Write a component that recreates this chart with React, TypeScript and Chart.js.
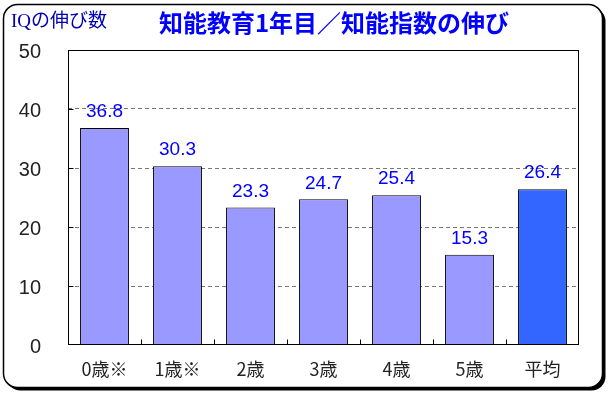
import React, { useEffect, useRef } from "react";
import { Chart, registerables } from "chart.js";

Chart.register(...registerables);

const categories = ["0歳※", "1歳※", "2歳", "3歳", "4歳", "5歳", "平均"];
const values = [36.8, 30.3, 23.3, 24.7, 25.4, 15.3, 26.4];
const barColors = ["#9999FF", "#9999FF", "#9999FF", "#9999FF", "#9999FF", "#9999FF", "#3366FF"];
const yMin = 0;
const yMax = 50;
const yStep = 10;
const titleText = "知能教育1年目／知能指数の伸び";
const yAxisTitle = "IQの伸び数";

function roundRectPath(ctx: CanvasRenderingContext2D, x: number, y: number, w: number, h: number, r: number) {
  ctx.beginPath();
  ctx.moveTo(x + r, y);
  ctx.lineTo(x + w - r, y);
  ctx.arcTo(x + w, y, x + w, y + r, r);
  ctx.lineTo(x + w, y + h - r);
  ctx.arcTo(x + w, y + h, x + w - r, y + h, r);
  ctx.lineTo(x + r, y + h);
  ctx.arcTo(x, y + h, x, y + h - r, r);
  ctx.lineTo(x, y + r);
  ctx.arcTo(x, y, x + r, y, r);
  ctx.closePath();
}

const decorPlugin = {
  id: "decor",
  beforeDraw(chart: any) {
    const ctx = chart.ctx as CanvasRenderingContext2D;
    ctx.save();
    ctx.fillStyle = "#ffffff";
    ctx.fillRect(0, 0, chart.width, chart.height);
    // shadow
    roundRectPath(ctx, 6.5, 7.5, 599, 383, 14);
    ctx.fillStyle = "#000";
    ctx.fill();
    // frame
    roundRectPath(ctx, 3.5, 4.5, 599, 383, 14);
    ctx.fillStyle = "#fff";
    ctx.fill();
    ctx.lineWidth = 1.5;
    ctx.strokeStyle = "#000";
    ctx.stroke();
    // titles
    ctx.textBaseline = "middle";
    ctx.textAlign = "center";
    ctx.fillStyle = "#0000FF";
    ctx.font = 'bold 24px "Noto Sans CJK JP", sans-serif';
    ctx.fillText(titleText, 334, 23);
    ctx.textAlign = "left";
    ctx.fillStyle = "#0000B0";
    ctx.font = '19px "Liberation Serif", "Noto Sans CJK JP", serif';
    ctx.fillText(yAxisTitle, 11, 22);
    ctx.restore();
  },
  afterDatasetsDraw(chart: any) {
    const ctx = chart.ctx as CanvasRenderingContext2D;
    const meta = chart.getDatasetMeta(0);
    ctx.save();
    ctx.fillStyle = "#0000FF";
    ctx.font = '19px "Liberation Sans", Arial, sans-serif';
    ctx.textAlign = "center";
    ctx.textBaseline = "middle";
    meta.data.forEach((el: any, i: number) => {
      ctx.fillText(values[i].toFixed(1), el.x, el.y - 16);
    });
    ctx.restore();
  },
  afterDraw(chart: any) {
    const ctx = chart.ctx as CanvasRenderingContext2D;
    const a = chart.chartArea;
    const xs = chart.scales.x;
    const ys = chart.scales.y;
    const L = Math.round(a.left) + 0.5;
    const R = Math.round(a.right) - 0.5;
    const T = Math.round(a.top) + 0.5;
    const B = Math.round(a.bottom) - 0.5;
    ctx.save();
    ctx.strokeStyle = "#000";
    ctx.lineWidth = 1;
    ctx.strokeRect(L, T, R - L, B - T);
    ctx.beginPath();
    for (let v = yMin + yStep; v < yMax; v += yStep) {
      const y = Math.round(ys.getPixelForValue(v)) + 0.5;
      ctx.moveTo(L, y);
      ctx.lineTo(L + 5, y);
    }
    for (let i = 1; i < categories.length; i++) {
      const x = Math.round((xs.getPixelForValue(i - 1) + xs.getPixelForValue(i)) / 2) + 0.5;
      ctx.moveTo(x, B);
      ctx.lineTo(x, B - 5);
    }
    ctx.stroke();
    ctx.restore();
  },
};

export default function App() {
  const ref = useRef<HTMLCanvasElement | null>(null);
  useEffect(() => {
    if (!ref.current) return;
    const chart = new Chart(ref.current, {
      type: "bar",
      data: {
        labels: categories,
        datasets: [
          {
            data: values,
            backgroundColor: barColors,
            borderColor: "#000",
            borderWidth: 1,
            categoryPercentage: 1,
            barPercentage: 0.67,
          },
        ],
      },
      options: {
        responsive: false,
        animation: false,
        devicePixelRatio: 1,
        layout: { padding: { left: 0, top: 50, right: 31, bottom: 0 } },
        plugins: { legend: { display: false }, tooltip: { enabled: false }, title: { display: false } },
        scales: {
          x: {
            grid: { display: false, drawTicks: false },
            border: { display: false },
            ticks: {
              color: "#222",
              font: { family: '"Noto Sans CJK JP", sans-serif', size: 18 },
              padding: 13,
              maxRotation: 0,
            },
            afterFit: (s: any) => {
              s.height = 51;
            },
          },
          y: {
            min: yMin,
            max: yMax,
            ticks: {
              stepSize: yStep,
              color: "#222",
              font: { family: '"Liberation Sans", Arial, sans-serif', size: 20 },
              padding: 27,
              labelOffset: 2,
            },
            grid: {
              drawTicks: false,
              color: (c: any) =>
                c.tick && (c.tick.value === yMin || c.tick.value === yMax) ? "rgba(0,0,0,0)" : "#777",
              lineWidth: 1,
            },
            border: { display: false, dash: [4, 3] },
            afterFit: (s: any) => {
              s.width = 68;
            },
          },
        },
      },
      plugins: [decorPlugin],
    });
    return () => chart.destroy();
  }, []);
  return (
    <div style={{ position: "absolute", left: 0, top: 0, width: 610, height: 396 }}>
      <canvas ref={ref} width={610} height={396} style={{ display: "block" }} />
    </div>
  );
}
